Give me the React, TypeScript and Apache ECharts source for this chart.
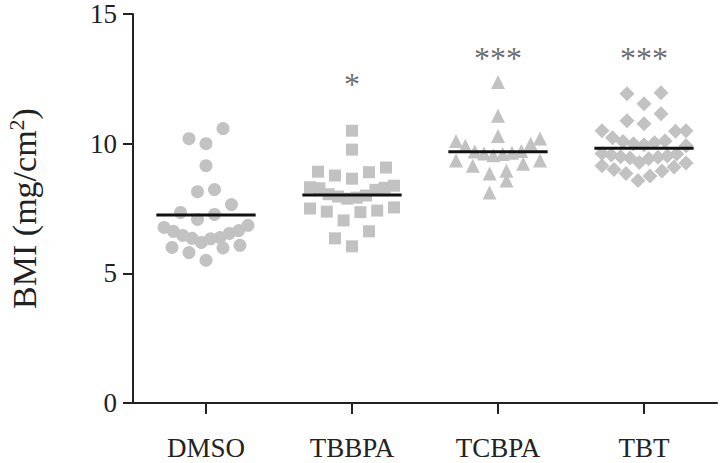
import React, { useEffect, useRef } from "react";
import * as echarts from "echarts";

const categories = ["DMSO", "TBBPA", "TCBPA", "TBT"];

const dmsoValues = [10.58, 10.19, 10.0, 9.15, 8.23, 8.15, 7.65, 7.35, 7.27, 7.08, 6.85, 6.77, 6.65, 6.62, 6.54, 6.46, 6.38, 6.35, 6.33, 6.19, 6.08, 6.0, 5.98, 5.8, 5.5];
const tbbpaValues = [10.5, 9.77, 9.08, 8.92, 8.9, 8.77, 8.65, 8.38, 8.32, 8.3, 8.28, 8.22, 8.05, 8.0, 7.96, 7.92, 7.88, 7.54, 7.5, 7.42, 7.38, 7.36, 7.04, 6.62, 6.35, 6.04];
const tcbpaValues = [12.38, 11.08, 10.3, 10.2, 10.1, 10.0, 9.92, 9.72, 9.7, 9.65, 9.62, 9.6, 9.55, 9.35, 9.35, 9.23, 9.15, 8.96, 8.85, 8.58, 8.12];
const tbtValues = [11.96, 11.92, 11.54, 11.15, 10.88, 10.77, 10.5, 10.5, 10.48, 10.23, 10.1, 10.08, 10.04, 10.0, 9.96, 9.92, 9.62, 9.6, 9.56, 9.52, 9.5, 9.48, 9.45, 9.42, 9.27, 9.25, 9.15, 9.1, 9.0, 8.95, 8.85, 8.75, 8.58];

const groupMeans = [7.25, 8.02, 9.69, 9.82];
const sigLabels = ["", "*", "***", "***"];
const sigLevels = [0, 12.3, 13.3, 13.3];
const yMin = 0;
const yMax = 15;
const yInterval = 5;

const groupValues = [dmsoValues, tbbpaValues, tcbpaValues, tbtValues];
const symbols = ["circle", "rect", "triangle", "diamond"];
const symbolSizes = [13, 12, 14, 15];

const FONT = "'Liberation Serif', 'Times New Roman', serif";
const TEXT = "#222";
const GRAY = "#c2c2c2";

const W = 720;
const H = 463;
const GRID = { left: 133, right: 3, top: 14, bottom: 60 };

// Prism-like row arrangement: rows of near-equal values, lowest in the middle.
function arrange(values: number[], rowH: number, maxGap: number, maxW: number): number[] {
  const idx = values.map((v, i) => i).sort((a, b) => values[a] - values[b]);
  const out = new Array(values.length).fill(0);
  let i = 0;
  while (i < idx.length) {
    const start = values[idx[i]];
    const row: number[] = [];
    while (i < idx.length && values[idx[i]] < start + rowH) {
      row.push(idx[i]);
      i++;
    }
    const m = row.length;
    const gap = m > 1 ? Math.min(maxGap, maxW / (m - 1)) : 0;
    const slots: number[] = [];
    for (let k = 0; k < m; k++) slots.push((k - (m - 1) / 2) * gap);
    slots.sort((a, b) => Math.abs(a) - Math.abs(b) || a - b);
    row.forEach((pi, k) => {
      out[pi] = slots[k];
    });
  }
  return out;
}

export default function App() {
  const ref = useRef<HTMLDivElement>(null);
  useEffect(() => {
    if (!ref.current) return;
    const chart = echarts.init(ref.current, null, { renderer: "svg" });
    const plotW = W - GRID.left - GRID.right;
    const plotH = H - GRID.top - GRID.bottom;
    const catPx = plotW / categories.length;
    const pxPerUnit = plotH / (yMax - yMin);

    const pointSeries = groupValues.map((vals, gi) => {
      const offs = arrange(vals, 17.6 / pxPerUnit, 17, 84);
      return {
        type: "scatter",
        xAxisIndex: 1,
        yAxisIndex: 0,
        symbol: symbols[gi],
        symbolSize: symbolSizes[gi],
        itemStyle: { color: GRAY, opacity: 1 },
        data: vals.map((v, k) => [gi + offs[k] / catPx, v]),
        z: 2,
        silent: true,
      };
    });

    const meanSeries = {
      type: "custom",
      xAxisIndex: 1,
      yAxisIndex: 0,
      z: 5,
      silent: true,
      data: groupMeans.map((m, i) => [i, m]),
      renderItem: (params: any, api: any) => {
        const x = api.value(0);
        const y = api.value(1);
        const p1 = api.coord([x - 0.34, y]);
        const p2 = api.coord([x + 0.34, y]);
        return {
          type: "line",
          shape: { x1: p1[0], y1: p1[1], x2: p2[0], y2: p2[1] },
          style: { stroke: "#111", lineWidth: 3 },
        };
      },
    };

    const sigSeries = {
      type: "scatter",
      xAxisIndex: 0,
      yAxisIndex: 0,
      symbolSize: 1,
      itemStyle: { color: "rgba(0,0,0,0)" },
      silent: true,
      z: 6,
      data: categories
        .map((c, i) => ({ value: [c, sigLevels[i]], name: sigLabels[i] }))
        .filter((d) => d.name !== ""),
      label: {
        show: true,
        position: "inside",
        formatter: (p: any) => p.name,
        fontFamily: FONT,
        fontSize: 32,
        color: "#444",
      },
    };

    chart.setOption({
      animation: false,
      backgroundColor: "#ffffff",
      grid: { ...GRID, containLabel: false, outerBoundsMode: "none" },
      xAxis: [
        {
          type: "category",
          data: categories,
          boundaryGap: true,
          axisLine: { show: true, onZero: false, lineStyle: { color: "#222", width: 2 } },
          axisTick: { show: true, alignWithLabel: true, length: 11, lineStyle: { color: "#222", width: 2 } },
          axisLabel: { fontFamily: FONT, fontSize: 27, lineHeight: 24, color: TEXT, margin: 33 },
          splitLine: { show: false },
        },
        {
          type: "value",
          min: -0.5,
          max: 3.5,
          show: false,
        },
      ],
      yAxis: [
        {
          type: "value",
          min: yMin,
          max: yMax,
          interval: yInterval,
          name: "{a|BMI (mg/cm}{s|2}{a|)}",
          nameLocation: "middle",
          nameRotate: 90,
          nameGap: 90,
          nameTextStyle: {
            fontFamily: FONT,
            color: TEXT,
            rich: {
              a: { fontFamily: FONT, fontSize: 34, color: TEXT, lineHeight: 38 },
              s: { fontFamily: FONT, fontSize: 22, color: TEXT, lineHeight: 22, verticalAlign: "top" },
            },
          },
          axisLine: { show: true, onZero: false, lineStyle: { color: "#222", width: 2 } },
          axisTick: { show: true, length: 10, lineStyle: { color: "#222", width: 2 } },
          axisLabel: { fontFamily: FONT, fontSize: 27, lineHeight: 22, color: TEXT, margin: 16 },
          splitLine: { show: false },
        },
      ],
      series: [...pointSeries, meanSeries, sigSeries],
    });
    return () => chart.dispose();
  }, []);
  return <div ref={ref} style={{ width: W, height: H, position: "absolute", left: 0, top: 0 }} />;
}
